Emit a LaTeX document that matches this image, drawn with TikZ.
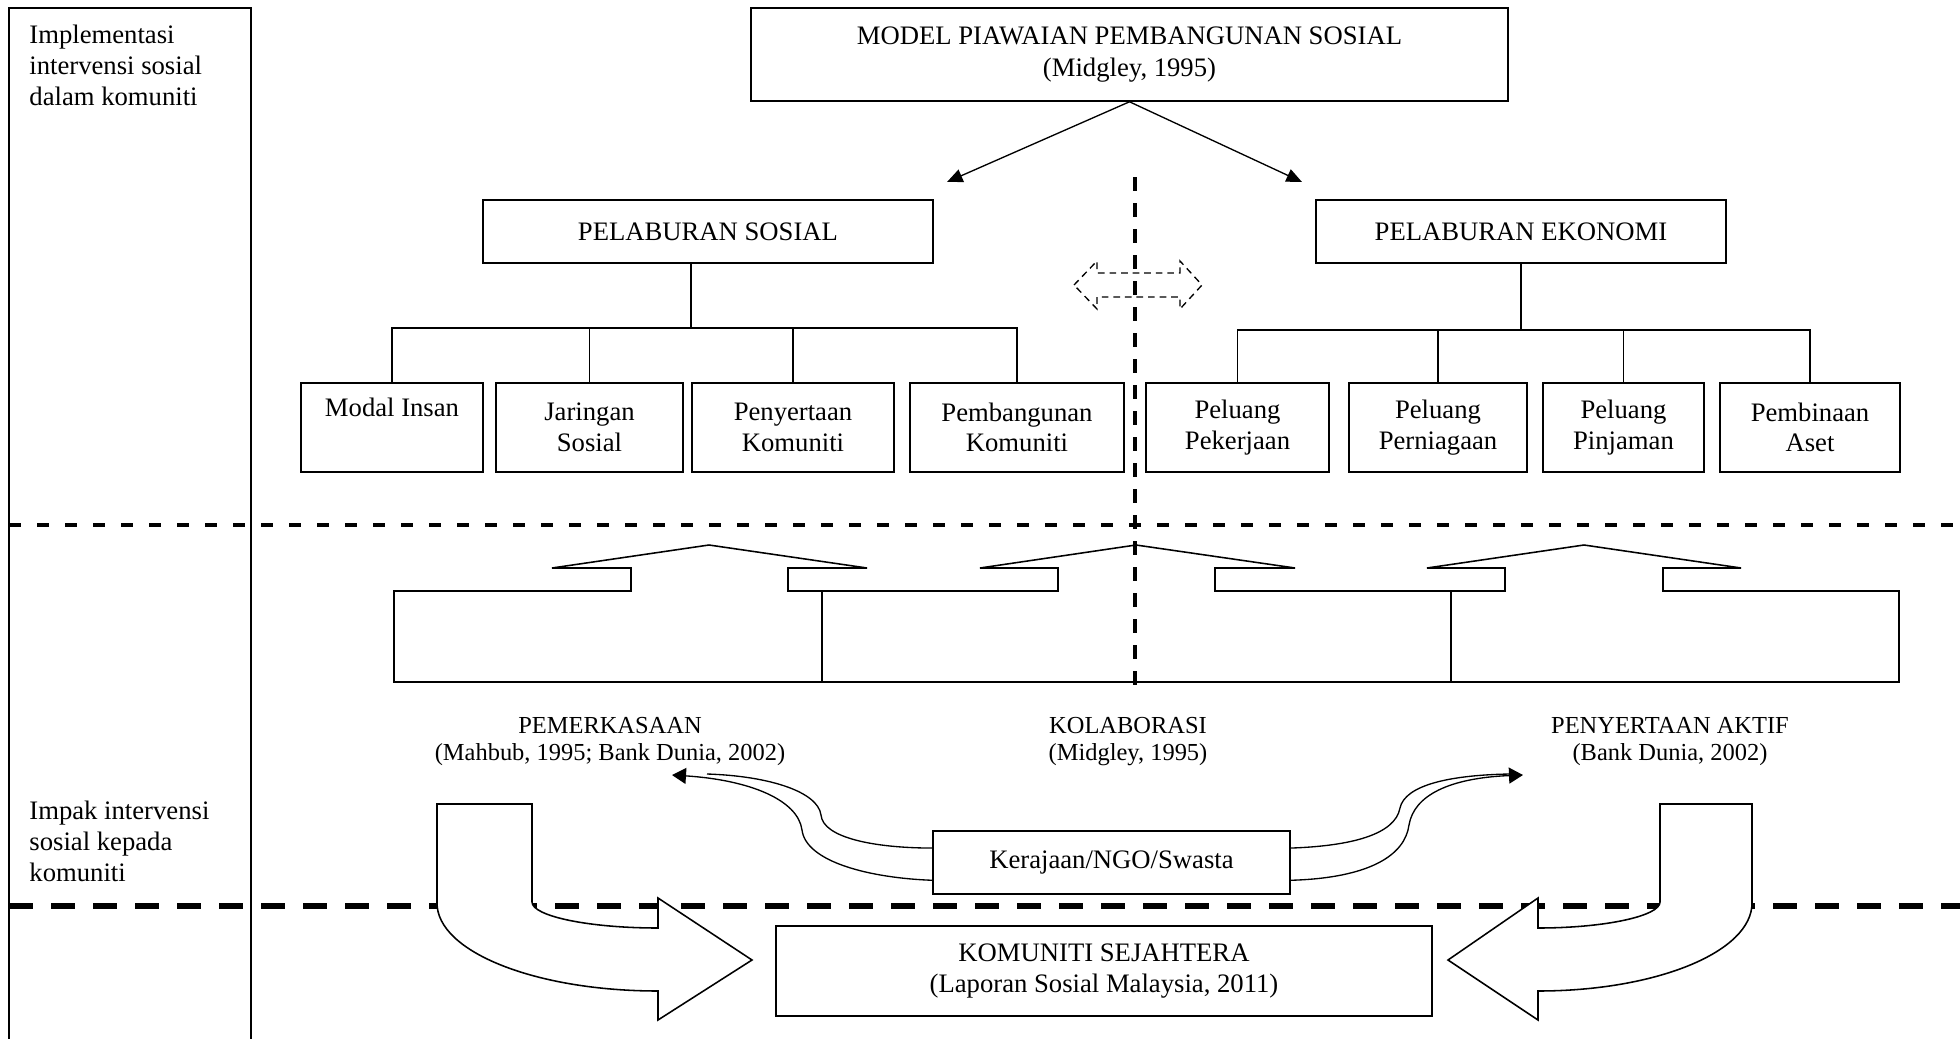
\documentclass[tikz,border=0pt]{standalone}
\usepackage{fontspec}
\setmainfont{Liberation Serif}
\usepackage{tikz}
\usetikzlibrary{arrows.meta}

\tikzset{
  box/.style 2 args={draw,line width=0.7pt,inner sep=0pt,align=center,
    minimum width=#1*0.45pt,minimum height=#2*0.45pt},
  small/.style={font=\fontsize{11}{12.2}\selectfont}
}

\begin{document}
\begin{tikzpicture}[x=0.45pt,y=-0.45pt,font=\fontsize{12}{13.8}\selectfont]
	\useasboundingbox (0,0) rectangle (1960,1039);

	\draw[line width=0.7pt] (9,1039) -- (9,8) -- (251,8) -- (251,1039);
	\draw[line width=1.5pt,dash pattern=on 5.4pt off 7.2pt] (9,525) -- (1960,525);
	\draw[line width=2.5pt,dash pattern=on 10.8pt off 8.1pt] (9,906) -- (1960,906);
	\draw[line width=1.4pt,dash pattern=on 6.3pt off 5.4pt] (1135,177) -- (1135,697);

	\begin{scope}[every node/.style={anchor=north west,inner sep=0pt,align=left}]
	    \node (imp) at (29,25) {Implementasi\\intervensi sosial\\dalam komuniti};
	    \node (impak) at (29,801) {Impak intervensi\\sosial kepada\\komuniti};
	\end{scope}

	\node[box={757}{93}] (model) at (1129.5,54.5) {MODEL PIAWAIAN PEMBANGUNAN SOSIAL\\[1pt](Midgley, 1995)};
	\node[box={450}{63}] (sos) at (708,231.5) {PELABURAN SOSIAL};
	\node[box={410}{63}] (eko) at (1521,231.5) {PELABURAN EKONOMI};

	\node[box={182}{89}] (s1) at (392,427.5) {Modal Insan\\\strut};
	\node[box={187}{89}] (s2) at (589.5,427.5) {Jaringan\\Sosial};
	\node[box={202}{89}] (s3) at (793,427.5) {Penyertaan\\Komuniti};
	\node[box={214}{89}] (s4) at (1017,427.5) {Pembangunan\\Komuniti};
	\node[box={183}{89}] (e1) at (1237.5,427.5) {Peluang\\Pekerjaan};
	\node[box={178}{89}] (e2) at (1438,427.5) {Peluang\\Perniagaan};
	\node[box={161}{89}] (e3) at (1623.5,427.5) {Peluang\\Pinjaman};
	\node[box={180}{89}] (e4) at (1810,427.5) {Pembinaan\\Aset};

	\node[box={357}{63}] (ngo) at (1111.5,862.5) {Kerajaan/NGO/Swasta};
	\node[box={656}{90}] (ks) at (1104,971) {KOMUNITI SEJAHTERA\\(Laporan Sosial Malaysia, 2011)};

	\begin{scope}[every node/.style={small,anchor=north,inner sep=0pt,align=center}]
	    \node (emp) at (610,717) {PEMERKASAAN\\(Mahbub, 1995; Bank Dunia, 2002)};
	    \node (kol) at (1128,717) {KOLABORASI\\(Midgley, 1995)};
	    \node (akt) at (1670,717) {PENYERTAAN AKTIF\\(Bank Dunia, 2002)};
	\end{scope}

	\begin{scope}[>={Triangle[length=7pt,width=6pt]},line width=0.6pt]
	    \coordinate (t1) at (947,182);
	    \coordinate (t2) at (1302,182);
	    \draw[->] (model.south) -- (t1);
	    \draw[->] (model.south) -- (t2);
	\end{scope}

	\begin{scope}[line width=0.6pt]
	    \coordinate (b1) at (691,328);
	    \coordinate (b2) at (1521,330);
	    \draw (sos.south -| b1) -- (b1);
	    \draw (s1.north) |- (b1) -| (s4.north);
	    \draw (s2.north) -- (s2.north |- b1);
	    \draw (s3.north) -- (s3.north |- b1);
	    \draw (eko.south) -- (b2);
	    \draw (e1.north) |- (b2) -| (e4.north);
	    \draw (e2.north) -- (e2.north |- b2);
	    \draw (e3.north) -- (e3.north |- b2);
	\end{scope}

	\draw[line width=0.6pt,dash pattern=on 3pt off 2.2pt] (1074,285) -- (1097,261) -- (1097,273) -- (1180,273) -- (1180,261)
	    -- (1202,285) -- (1180,309) -- (1180,297) -- (1097,297) -- (1097,309) -- cycle;

	\draw[line width=0.7pt] (394,682) -- (394,591) -- (631,591) -- (631,568) -- (552,568) -- (709,545) -- (867,568) -- (788,568)
	    -- (788,591) -- (1058,591) -- (1058,568) -- (980,568) -- (1136,545) -- (1295,568) -- (1215,568) -- (1215,591)
	    -- (1505,591) -- (1505,568) -- (1427,568) -- (1584,545) -- (1741,568) -- (1663,568) -- (1663,591)
	    -- (1899,591) -- (1899,682) -- cycle;
	\draw[line width=0.7pt] (822,591) -- (822,682);
	\draw[line width=0.7pt] (1451,591) -- (1451,682);

	\begin{scope}[>={Triangle[length=6.3pt,width=7.2pt]},line width=0.6pt]
	    \coordinate (r1) at (672,775);
	    \coordinate (r1a) at (707,774);
	    \coordinate (r2) at (1523,775);
	    \coordinate (r2a) at (1510,774);
	    \draw ([yshift=6.5pt]ngo.west) .. controls (875,848) and (823,838) .. (821,815)
	        .. controls (818,792) and (770,776) .. (r1a);
	    \draw[->] ([yshift=-8pt]ngo.west) .. controls (870,878) and (806,862) .. (802,830)
	        .. controls (798,800) and (750,780) .. (r1);
	    \draw ([yshift=6.5pt]ngo.east) .. controls (1350,846) and (1395,835) .. (1400,808)
	        .. controls (1405,785) and (1450,775) .. (r2a);
	    \draw[->] ([yshift=-8pt]ngo.east) .. controls (1370,878) and (1405,855) .. (1409,825)
	        .. controls (1414,795) and (1450,778) .. (r2);
	\end{scope}

	\draw[line width=0.7pt,fill=white] (437,804) -- (532,804) -- (532,902) .. controls (532,916) and (588,928) .. (658,928)
	    -- (658,898) -- (752,960) -- (658,1020) -- (658,991) .. controls (536,991) and (437,952) .. (437,903) -- cycle;
	\draw[line width=0.7pt,fill=white] (1752,804) -- (1660,804) -- (1660,902) .. controls (1660,916) and (1605,928) .. (1538,928)
	    -- (1538,898) -- (1448,960) -- (1538,1020) -- (1538,991) .. controls (1656,991) and (1752,952) .. (1752,903) -- cycle;
\end{tikzpicture}
\end{document}
